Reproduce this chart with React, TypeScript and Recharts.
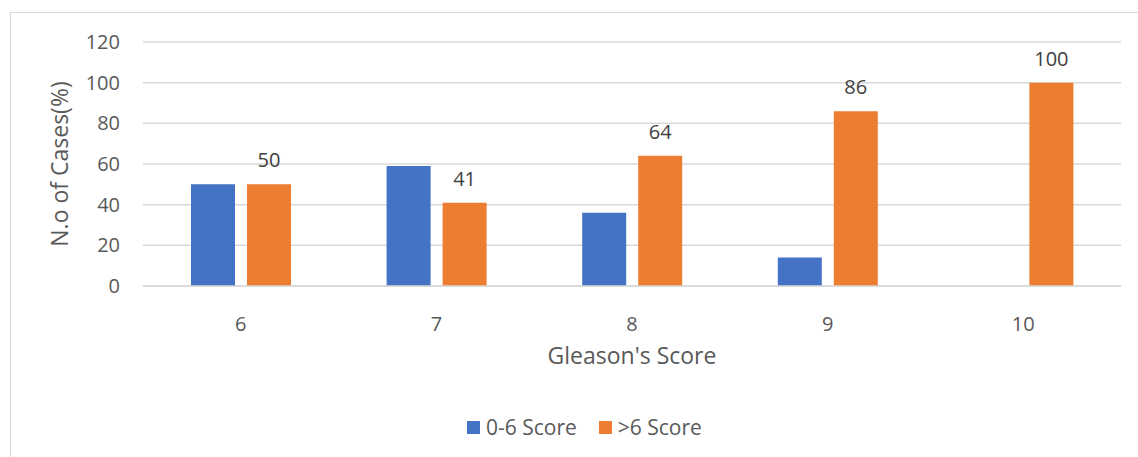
import React from 'react';
import { BarChart, Bar, XAxis, YAxis, CartesianGrid, Legend, LabelList } from 'recharts';

const categories = ['6', '7', '8', '9', '10'];
const lowScore = [50, 59, 36, 14, 0];
const highScore = [50, 41, 64, 86, 100];
const yTicks = [0, 20, 40, 60, 80, 100, 120];

const data = categories.map((c, i) => ({ cat: c, low: lowScore[i], high: highScore[i] }));

const FONT = '"Open Sans", sans-serif';
const TEXT = '#595959';

const renderLegend = (props: any) => {
  const { payload } = props;
  return (
    <div style={{ display: 'flex', alignItems: 'center', fontFamily: FONT, fontSize: 21, color: TEXT, lineHeight: '26px' }}>
      {payload.map((p: any, i: number) => (
        <div key={i} style={{ display: 'flex', alignItems: 'center', marginRight: i === 0 ? 22 : 0 }}>
          <div style={{ width: 13, height: 13, background: p.color, marginRight: 6 }} />
          <span>{p.value}</span>
        </div>
      ))}
    </div>
  );
};

export default function App() {
  return (
    <div style={{ position: 'absolute', left: 0, top: 0, width: 1138, height: 457, overflow: 'hidden', background: '#fff' }}>
      <div style={{ position: 'absolute', left: 10, top: 12, width: 1200, height: 500, border: '1px solid #d9d9d9' }} />
      <BarChart
        width={1138}
        height={457}
        data={data}
        margin={{ top: 42, right: 17, left: 0, bottom: 55 }}
        barSize={44}
        barGap={12}
        style={{ fontFamily: FONT }}
      >
        <CartesianGrid vertical={false} stroke="#d9d9d9" strokeWidth={1.5} />
        <XAxis
          dataKey="cat"
          height={90}
          axisLine={{ stroke: '#d9d9d9', strokeWidth: 1.5 }}
          tickLine={false}
          tickMargin={25}
          tick={{ fill: TEXT, fontSize: 20, fontFamily: FONT }}
          label={{ value: "Gleason's Score", position: 'insideBottom', offset: 12, fill: TEXT, fontSize: 23, fontFamily: FONT }}
        />
        <YAxis
          width={143}
          domain={[0, 120]}
          ticks={yTicks}
          axisLine={false}
          tickLine={false}
          tickMargin={17}
          tick={{ fill: TEXT, fontSize: 20, fontFamily: FONT }}
          label={{ value: 'N.o of Cases(%)', angle: -90, position: 'insideLeft', offset: 60, fill: TEXT, fontSize: 23, fontFamily: FONT, style: { textAnchor: 'middle' } }}
        />
        <Legend
          verticalAlign="bottom"
          content={renderLegend}
          wrapperStyle={{ left: 467, top: 414, width: 300, height: 26 }}
        />
        <Bar dataKey="low" name="0-6 Score" fill="#4472C4" isAnimationActive={false} />
        <Bar dataKey="high" name=">6 Score" fill="#ED7D31" isAnimationActive={false}>
          <LabelList dataKey="high" position="top" offset={17} fill="#404040" fontSize={20} fontFamily={FONT} />
        </Bar>
      </BarChart>
    </div>
  );
}
